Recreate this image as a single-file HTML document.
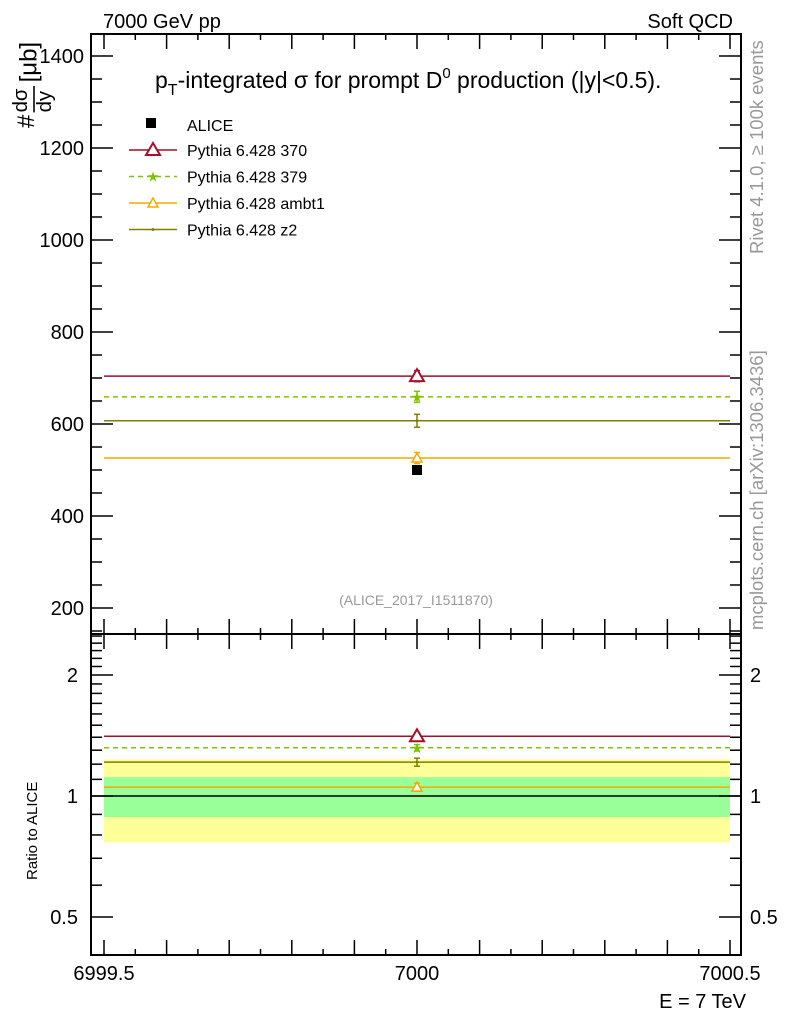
<!DOCTYPE html>
<html><head><meta charset="utf-8"><style>
body{margin:0;background:#fff}
svg{display:block;font-family:"Liberation Sans",sans-serif}
</style></head><body>
<svg id="chart" width="786" height="1024" viewBox="0 0 786 1024" xmlns="http://www.w3.org/2000/svg">
<g id="g"></g>
</svg>
<script>
const seriesNames = ["Pythia 6.428 370","Pythia 6.428 379","Pythia 6.428 ambt1","Pythia 6.428 z2"];
const seriesValues = [704, 659, 526, 607];
const seriesErrors = [12, 12, 12, 14];
const seriesColors = ["#a50f28","#7cc400","#f5a800","#808000"];
const dataValue = [500];
const dataStatErr = [57];
const dataTotErr = [117];
const mainTicks = [200,400,600,800,1000,1200,1400];
const ratioTicks = [0.5,1,2];
const xTicks = [6999.5,7000,7000.5];
const xCenter = 7000, xLo = 6999.5, xHi = 7000.5;

const NS="http://www.w3.org/2000/svg";
const g=document.getElementById('g');
function el(t,a,p){const e=document.createElementNS(NS,t);for(const k in a)e.setAttribute(k,a[k]);(p||g).appendChild(e);return e;}
const L=91,R=741,T=34,MB=634,B=955;
const X=v=>104+(v-6999.5)*626;
const Y=v=>424-(v-600)*0.46;
const YR=r=>796-Math.log2(r)*121;

// ratio bands
let b=el('rect',{x:X(xLo),y:YR(1+dataTotErr[0]/dataValue[0]),width:X(xHi)-X(xLo),height:YR(1-dataTotErr[0]/dataValue[0])-YR(1+dataTotErr[0]/dataValue[0]),fill:'#ffff99'});


b=el('rect',{x:X(xLo),y:YR(1+dataStatErr[0]/dataValue[0]),width:X(xHi)-X(xLo),height:YR(1-dataStatErr[0]/dataValue[0])-YR(1+dataStatErr[0]/dataValue[0]),fill:'#99ff99'});


el('line',{x1:L,x2:R,y1:YR(1),y2:YR(1),stroke:'#000','stroke-width':1.5});

// frames
el('rect',{x:L,y:T,width:R-L,height:MB-T,fill:'none',stroke:'#000','stroke-width':2});
el('rect',{x:L,y:MB,width:R-L,height:B-MB,fill:'none',stroke:'#000','stroke-width':2});

// y ticks main
for(let v=150;v<=1445;v+=50){const maj=v%200===0;const len=maj?22:11;const y=Y(v);
el('line',{x1:L,x2:L+len,y1:y,y2:y,stroke:'#000','stroke-width':1.5});
el('line',{x1:R,x2:R-len,y1:y,y2:y,stroke:'#000','stroke-width':1.5});}
mainTicks.forEach(v=>{const t=el('text',{x:84,y:Y(v)+7,'text-anchor':'end','font-size':20});t.textContent=v;
});
// ratio ticks
const rmin=[0.4,0.5,0.6,0.7,0.8,0.9,1,1.1,1.2,1.3,1.4,1.5,1.6,1.7,1.8,1.9,2,2.1,2.2,2.3,2.4,2.5];
rmin.forEach(r=>{const maj=ratioTicks.includes(r);const len=maj?22:11;const y=YR(r);if(y<MB||y>B)return;
el('line',{x1:L,x2:L+len,y1:y,y2:y,stroke:'#000','stroke-width':1.5});
el('line',{x1:R,x2:R-len,y1:y,y2:y,stroke:'#000','stroke-width':1.5});});
ratioTicks.forEach(r=>{let t=el('text',{x:78,y:YR(r)+7,'text-anchor':'end','font-size':20});t.textContent=r;

t=el('text',{x:750,y:YR(r)+7,'font-size':20});t.textContent=r;
});
// x ticks
for(let i=0;i<=20;i++){const v=6999.5+i*0.05;const x=X(v);const maj=i%2===0;const len=maj?15:6;
[T,MB].forEach(y0=>el('line',{x1:x,x2:x,y1:y0,y2:y0+len,stroke:'#000','stroke-width':1.5}));
[MB,B].forEach(y0=>el('line',{x1:x,x2:x,y1:y0,y2:y0-len,stroke:'#000','stroke-width':1.5}));}
xTicks.forEach(v=>{const t=el('text',{x:X(v),y:980,'text-anchor':'middle','font-size':20});t.textContent=v;
});

// markers
function marker(i,x,y,s){const c=seriesColors[i];
if(i===0)el('path',{d:`M${x},${y-7}L${x+7},${y+5}L${x-7},${y+5}Z`,fill:'#fff',stroke:c,'stroke-width':2});
else if(i===1)el('text',{x:x,y:y+5,'text-anchor':'middle','font-size':14,fill:c}).textContent='★';
else if(i===2)el('path',{d:`M${x},${y-5}L${x+5},${y+4}L${x-5},${y+4}Z`,fill:'#fff',stroke:c,'stroke-width':1.5});
else el('circle',{cx:x,cy:y,r:1.5,fill:c});}
seriesValues.forEach((v,i)=>{const c=seriesColors[i];const dash=i===1?'5,4':'none';
[[Y(v),Y(v+seriesErrors[i]),Y(v-seriesErrors[i])],[YR(v/dataValue[0]),YR((v+seriesErrors[i])/dataValue[0]),YR((v-seriesErrors[i])/dataValue[0])]].forEach(([y,y1,y2])=>{
const ln=el('line',{x1:X(xLo),x2:X(xHi),y1:y,y2:y,stroke:c,'stroke-width':1.5,'stroke-dasharray':dash});

el('line',{x1:X(xCenter),x2:X(xCenter),y1:y1,y2:y2,stroke:c,'stroke-width':1.5});
el('line',{x1:X(xCenter)-3,x2:X(xCenter)+3,y1:y1,y2:y1,stroke:c,'stroke-width':1.5});
el('line',{x1:X(xCenter)-3,x2:X(xCenter)+3,y1:y2,y2:y2,stroke:c,'stroke-width':1.5});
marker(i,X(xCenter),y);});});
const dp=el('rect',{x:X(xCenter)-5,y:Y(dataValue[0])-5,width:10,height:10,fill:'#000'});


// legend
el('rect',{x:146,y:118,width:10,height:10,fill:'#000'});
let t=el('text',{x:187,y:131,'font-size':16});t.textContent='ALICE';

seriesNames.forEach((n,i)=>{const y=150+i*26.5;
el('line',{x1:129,x2:177,y1:y,y2:y,stroke:seriesColors[i],'stroke-width':1.5,'stroke-dasharray':i===1?'5,4':'none'});
marker(i,153,y);const t=el('text',{x:187,y:y+6,'font-size':16});t.textContent=n;
});
</script>
<svg style="position:absolute;left:0;top:0" width="786" height="1024" font-family="Liberation Sans, sans-serif">
<text x="103" y="28" font-size="20">7000 GeV pp</text>
<text x="733" y="28" font-size="20" text-anchor="end">Soft QCD</text>
<text x="155" y="88" font-size="23">p<tspan font-size="16" dy="7">T</tspan><tspan dy="-7">-integrated σ for prompt D</tspan><tspan font-size="15" dy="-10">0</tspan><tspan dy="10"> production (|y|&lt;0.5).</tspan></text>
<g transform="translate(34,128) rotate(-90) scale(1.2)" font-size="20"><text x="0" y="0">#</text><text x="13" y="-6" font-size="17">dσ</text><line x1="13" x2="35" y1="0" y2="0" stroke="#000" stroke-width="1.3"/><text x="13" y="14" font-size="17">dy</text><text x="38" y="2">[μb]</text></g>
<text transform="translate(37,880) rotate(-90)" font-size="15">Ratio to ALICE</text>
<text x="746" y="1008" font-size="20" text-anchor="end">E = 7 TeV</text>
<text x="416" y="605" font-size="14" fill="#999" text-anchor="middle">(ALICE_2017_I1511870)</text>
<text transform="translate(763,254) rotate(-90)" font-size="18.5" fill="#999">Rivet 4.1.0, ≥ 100k events</text>
<text transform="translate(763,630) rotate(-90)" font-size="18.5" fill="#999">mcplots.cern.ch [arXiv:1306.3436]</text>
</svg>
</body></html>
